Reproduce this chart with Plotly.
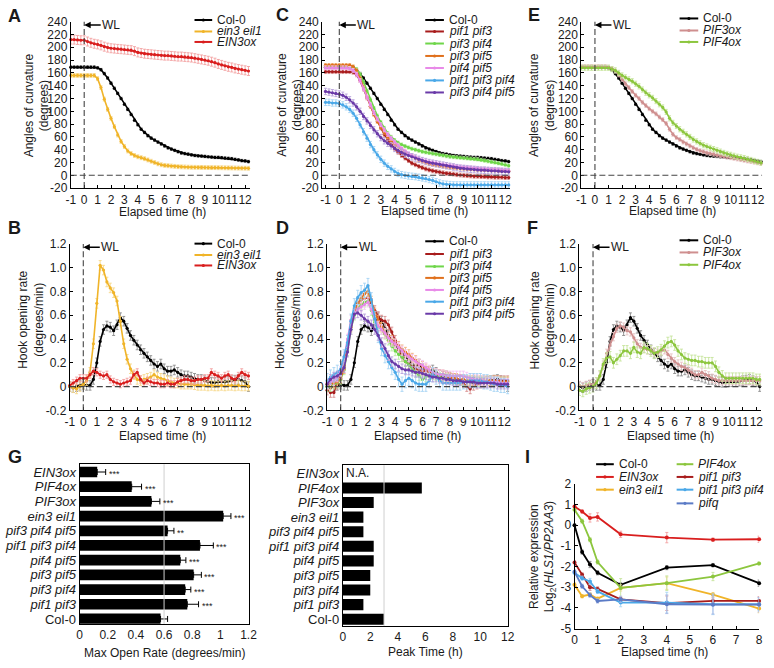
import plotly.graph_objects as go

W, H = 774, 668
def px(x): return x / W
def py(y): return 1 - y / H

# ---------------- data ----------------
TIME_H = [
    -1, -0.75, -0.5, -0.25, 0, 0.25, 0.5, 0.75, 1,
    1.25, 1.5, 1.75, 2, 2.25, 2.5, 2.75, 3, 3.25,
    3.5, 3.75, 4, 4.25, 4.5, 4.75, 5, 5.25, 5.5,
    5.75, 6, 6.25, 6.5, 6.75, 7, 7.25, 7.5, 7.75,
    8, 8.25, 8.5, 8.75, 9, 9.25, 9.5, 9.75, 10,
    10.25, 10.5, 10.75, 11, 11.25, 11.5, 11.75, 12, 12.25]
TIME_TICKS = [-1, 0, 1, 2, 3, 4, 5, 6, 7, 8, 9, 10, 11, 12]

# angles of curvature (degrees)
COL0_ANGLE = [
    169, 169, 169, 169, 169, 169, 169, 169, 168,
    165, 159, 152, 144, 136, 128, 120, 111, 103,
    95, 86, 79, 72, 67, 62, 58, 55, 52,
    49, 46, 43, 41, 39, 37, 35, 34, 33,
    32, 31, 30.5, 30, 29.5, 29, 28.5, 28, 28,
    27.5, 27, 26.5, 26, 25, 24, 23, 22.5, 21.5]
EIN3EIL1_ANGLE = [
    156, 156, 156, 156, 156, 156, 156, 156, 151,
    137, 119, 103, 89, 76, 63, 53, 45, 38,
    34, 31, 29, 27.5, 26, 24, 22, 20, 18,
    16.5, 15.5, 15, 14.5, 14, 13.5, 13.2, 13, 12.8,
    12.6, 12.5, 12.4, 12.3, 12.2, 12.1, 12, 12, 11.9,
    11.8, 11.7, 11.6, 11.5, 11.4, 11.3, 11.2, 11.1, 11]
EIN3OX_ANGLE = [
    212, 212, 211.5, 211, 211, 209, 207, 205.5, 204.5,
    203, 201, 199.5, 198.5, 198, 197.5, 197, 196.5, 196,
    195.5, 194, 192, 191, 190, 189.5, 189, 188.5, 188,
    187.5, 187, 187, 186.5, 186, 185.5, 185.5, 185, 184.5,
    184, 183, 182, 181, 180, 179, 177.5, 176, 174,
    172.5, 171, 169.5, 168.5, 167, 166, 165, 164, 163]
PIF13_ANGLE = [
    162, 162, 162, 162, 162, 162, 162, 162, 161,
    157, 148, 135, 121, 108, 96, 85, 74, 64,
    55, 48, 42, 36, 31, 27, 23, 19, 16.5,
    14, 12, 10, 8.5, 7, 6, 5, 4, 3,
    2.5, 2, 1, 0.5, 0, -0.5, -1, -1.5, -1.5,
    -2, -2, -2.5, -2.5, -3, -3, -3, -3.5, -3.5]
PIF34_ANGLE = [
    170, 170, 170, 170, 170, 170, 170, 170, 169,
    166, 158, 146, 132, 118, 105, 93, 83, 74,
    66, 60, 55, 51, 48, 45.5, 43.5, 41.5, 40,
    38.5, 37, 36, 35, 34, 33, 32, 31, 30,
    29, 28.5, 28, 27.5, 27, 26.5, 26, 25.5, 25,
    24, 23, 22, 21, 20, 19, 18, 16.5, 15]
PIF35_ANGLE = [
    172, 172, 172, 172, 172, 172, 172, 172, 170,
    164, 152, 137, 122, 108, 95, 84, 75, 67,
    60, 54, 49, 45, 41, 37, 33, 30, 27,
    24, 22, 20, 18, 17, 16, 15, 14, 13,
    12.5, 12, 11.5, 11, 10.5, 10, 10, 9.5, 9,
    9, 8.5, 8.5, 8, 8, 7.5, 7.5, 7, 6.5]
PIF45_ANGLE = [
    168, 168, 168, 168, 168, 168, 168, 167, 164,
    158, 148, 135, 122, 110, 98, 88, 79, 71,
    64, 58, 52, 47, 42, 38, 34, 31, 28.5,
    26, 24, 22.5, 21, 20, 19, 18, 17, 16,
    15.5, 15, 14, 13.5, 13, 12.5, 12, 11.5, 11,
    10.5, 10, 10, 9.5, 9.5, 9, 9, 8, 7.5]
PIF134_ANGLE = [
    114, 114, 113, 113, 112, 110, 107, 103, 97,
    89, 79, 68, 58, 48, 40, 32, 25, 19,
    14, 10, 6, 3, 1, 0, -1, -1.5, -2,
    -3, -4, -5, -6.5, -8, -10, -12, -13.5, -14,
    -14.5, -15, -15, -15, -15, -15, -15, -15, -15,
    -15, -15, -15, -15, -15, -15, -15, -15, -15]
PIF345_ANGLE = [
    131, 130, 129, 128, 127, 125, 122, 118, 113,
    107, 100, 92, 85, 78, 71, 65, 59, 54,
    50, 46, 42, 39, 36, 33, 31, 29, 27,
    25, 23, 21.5, 20, 19, 18, 17, 16, 15,
    14, 13, 12, 11, 10.5, 10, 9.5, 9, 8.5,
    8, 8, 7.5, 7, 7, 6.5, 6, 6, 5.5]
PIF3OX_ANGLE = [
    170, 170, 170, 170, 170, 170, 170, 170, 169,
    167, 163, 157, 150, 143, 137, 131, 125, 120,
    114, 109, 104, 100, 96, 91, 87, 81, 72,
    64, 59, 56, 52, 49, 46, 43, 40.5, 38.5,
    37, 35, 34, 33, 31.5, 30.5, 29.5, 28.5, 27.5,
    26.5, 25.5, 24.5, 23.5, 22.5, 21.5, 20.5, 19.5, 18.5]
PIF4OX_ANGLE = [
    168, 168, 168, 168, 168, 168, 168, 168, 168,
    166, 164, 160, 156, 153, 150, 147, 143, 139,
    134, 129, 125, 121, 116, 111, 106, 99, 89,
    82, 77, 72, 68, 64, 60, 56, 53, 50,
    47, 45, 43, 41, 39, 37, 35, 33.5, 32,
    30.5, 29, 28, 27, 25.5, 24, 22.5, 21, 19.5]

# hook opening rate (degrees/min)
COL0_RATE = [
    0.0, -0.01, 0.0, 0.01, 0.02, 0.01, 0.01, 0.06, 0.2,
    0.38, 0.48, 0.51, 0.5, 0.47, 0.52, 0.58, 0.55, 0.49,
    0.43, 0.39, 0.35, 0.31, 0.28, 0.25, 0.22, 0.19, 0.17,
    0.19, 0.15, 0.13, 0.13, 0.14, 0.12, 0.1, 0.09, 0.09,
    0.08, 0.07, 0.06, 0.06, 0.05, 0.04, 0.035, 0.035, 0.04,
    0.04, 0.04, 0.045, 0.05, 0.055, 0.06, 0.05, 0.04, 0.0]
EIN3EIL1_RATE = [
    0.0, -0.01, -0.02, 0.0, 0.02, 0.05, 0.12, 0.36, 0.7,
    1.02, 0.98, 0.88, 0.83, 0.79, 0.72, 0.55, 0.36, 0.23,
    0.15, 0.1, 0.06, 0.05, 0.06, 0.07, 0.08, 0.1, 0.08,
    0.07, 0.06, 0.05, 0.04, 0.03, 0.03, 0.02, 0.02, 0.02,
    0.02, 0.015, 0.01, 0.01, 0.01, 0.005, 0.01, 0.005, 0.005,
    0.01, 0.005, 0.01, 0.01, 0.005, 0.01, 0.005, 0.005, 0.005]
EIN3OX_RATE = [
    0.01, 0.03, 0.05, 0.07, 0.07, 0.07, 0.1, 0.13, 0.12,
    0.1, 0.09, 0.1, 0.06, 0.04, 0.03, 0.02, 0.03, 0.04,
    0.05, 0.1, 0.12, 0.06, 0.03, 0.05, 0.04, 0.03, 0.03,
    0.02, 0.02, 0.03, 0.02, 0.02, 0.04, 0.05, 0.06, 0.06,
    0.05, 0.05, 0.06, 0.06, 0.07, 0.07, 0.12, 0.1, 0.09,
    0.07, 0.09, 0.1, 0.07, 0.06, 0.09, 0.12, 0.1, 0.09]
PIF13_RATE = [
    -0.03, -0.05, -0.05, 0.02, 0.1, 0.18, 0.35, 0.52, 0.62,
    0.7, 0.73, 0.74, 0.75, 0.7, 0.64, 0.59, 0.56, 0.55,
    0.52, 0.46, 0.39, 0.31, 0.25, 0.21, 0.19, 0.17, 0.15,
    0.14, 0.13, 0.13, 0.12, 0.11, 0.1, 0.1, 0.09, 0.08,
    0.07, 0.07, 0.06, 0.05, 0.03, 0.0, -0.02, 0.01, 0.02,
    0.03, 0.03, 0.04, 0.04, 0.05, 0.05, 0.05, 0.05, 0.05]
PIF34_RATE = [
    0.0, 0.0, 0.02, 0.03, 0.06, 0.14, 0.3, 0.48, 0.6,
    0.66, 0.69, 0.71, 0.72, 0.64, 0.54, 0.5, 0.48, 0.44,
    0.39, 0.34, 0.3, 0.27, 0.25, 0.21, 0.18, 0.15, 0.12,
    0.09, 0.06, 0.08, 0.1, 0.1, 0.09, 0.08, 0.07, 0.07,
    0.06, 0.06, 0.06, 0.05, 0.05, 0.05, 0.05, 0.05, 0.04,
    0.04, 0.04, 0.04, 0.04, 0.04, 0.04, 0.04, 0.04, 0.04]
PIF35_RATE = [
    0.02, 0.02, 0.03, 0.04, 0.07, 0.15, 0.33, 0.5, 0.62,
    0.7, 0.74, 0.78, 0.8, 0.72, 0.62, 0.56, 0.5, 0.45,
    0.42, 0.39, 0.36, 0.34, 0.31, 0.29, 0.27, 0.24, 0.22,
    0.19, 0.17, 0.15, 0.13, 0.12, 0.11, 0.1, 0.1, 0.09,
    0.08, 0.07, 0.07, 0.06, 0.06, 0.05, 0.05, 0.05, 0.05,
    0.05, 0.05, 0.05, 0.05, 0.05, 0.05, 0.04, 0.04, 0.04]
PIF45_RATE = [
    0.03, 0.04, 0.05, 0.08, 0.13, 0.25, 0.4, 0.56, 0.62,
    0.65, 0.67, 0.69, 0.71, 0.65, 0.57, 0.51, 0.48, 0.45,
    0.41, 0.38, 0.36, 0.33, 0.3, 0.27, 0.25, 0.23, 0.21,
    0.19, 0.18, 0.16, 0.14, 0.12, 0.11, 0.1, 0.1, 0.09,
    0.09, 0.09, 0.09, 0.09, 0.09, 0.08, 0.07, 0.06, 0.06,
    0.05, 0.05, 0.04, 0.04, 0.04, 0.04, 0.03, 0.03, 0.03]
PIF134_RATE = [
    0.05, 0.08, 0.1, 0.12, 0.15, 0.25, 0.37, 0.55, 0.68,
    0.75, 0.79, 0.81, 0.85, 0.73, 0.57, 0.43, 0.32, 0.26,
    0.21, 0.16, 0.12, 0.06, 0.02, 0.05, 0.07, 0.05, 0.03,
    0.02, 0.02, 0.02, 0.05, 0.1, 0.08, 0.05, 0.03, 0.03,
    0.03, 0.03, 0.03, 0.03, 0.04, 0.04, 0.05, 0.05, 0.05,
    0.05, 0.04, 0.04, 0.03, 0.02, 0.02, 0.01, 0.01, 0.0]
PIF345_RATE = [
    0.02, 0.06, 0.08, 0.09, 0.11, 0.16, 0.29, 0.48, 0.61,
    0.62, 0.6, 0.57, 0.55, 0.52, 0.48, 0.43, 0.37, 0.32,
    0.26, 0.21, 0.19, 0.17, 0.15, 0.14, 0.14, 0.13, 0.12,
    0.12, 0.11, 0.1, 0.09, 0.08, 0.08, 0.07, 0.07, 0.06,
    0.06, 0.05, 0.05, 0.05, 0.04, 0.04, 0.04, 0.04, 0.03,
    0.03, 0.03, 0.03, 0.03, 0.03, 0.02, 0.02, 0.02, 0.02]
PIF3OX_RATE = [
    0.01, 0.0, 0.01, 0.02, 0.02, 0.04, 0.09, 0.18, 0.28,
    0.35, 0.42, 0.49, 0.51, 0.5, 0.47, 0.46, 0.41, 0.36,
    0.33, 0.32, 0.31, 0.31, 0.29, 0.28, 0.3, 0.31, 0.27,
    0.24, 0.21, 0.19, 0.17, 0.16, 0.14, 0.12, 0.1, 0.1,
    0.12, 0.1, 0.09, 0.07, 0.06, 0.05, 0.05, 0.05, 0.05,
    0.05, 0.05, 0.05, 0.05, 0.05, 0.05, 0.05, 0.05, 0.05]
PIF4OX_RATE = [
    -0.03, -0.04, -0.02, -0.01, 0.0, 0.03, 0.09, 0.19, 0.24,
    0.25, 0.2, 0.23, 0.26, 0.3, 0.3, 0.28, 0.33, 0.29,
    0.28, 0.33, 0.32, 0.3, 0.28, 0.29, 0.31, 0.34, 0.37,
    0.38, 0.35, 0.3, 0.27, 0.24, 0.23, 0.22, 0.22, 0.21,
    0.21, 0.2, 0.2, 0.2, 0.17, 0.12, 0.09, 0.07, 0.07,
    0.07, 0.07, 0.07, 0.07, 0.07, 0.07, 0.07, 0.06, 0.06]

# G / H bar panels (bottom to top)
GENOTYPES = ["Col-0", "pif1 pif3", "pif3 pif4", "pif3 pif5", "pif4 pif5",
             "pif1 pif3 pif4", "pif3 pif4 pif5", "ein3 eil1", "PIF3ox", "PIF4ox", "EIN3ox"]
MAX_OPEN_RATE = [0.575, 0.765, 0.75, 0.81, 0.715, 0.855, 0.625, 1.02, 0.51, 0.37, 0.125]
MAX_OPEN_ERR = [0.05, 0.08, 0.04, 0.055, 0.04, 0.095, 0.045, 0.055, 0.06, 0.07, 0.06]
SIGNIF = ["", "***", "***", "***", "***", "***", "**", "***", "***", "***", "***"]
PEAK_TIME = [3.0, 1.5, 2.0, 2.0, 2.25, 2.25, 1.5, 1.5, 2.25, 5.75, None]

# I: HLS1 expression
I_TIME = [0, 0.33, 0.67, 1, 2, 4, 6, 8]
I_COL0 = [0, -1.3, -1.9, -2.3, -2.88, -2.05, -1.93, -2.8]
I_EIN3OX = [0.9, 0.66, 0.35, 0.4, -0.44, -0.6, -0.7, -0.68]
I_EIN3EIL1 = [-2.88, -3.43, -3.35, -3.55, -3.03, -2.8, -3.35, -4.03]
I_PIF4OX = [0.74, 0.19, -0.7, -1.78, -3.03, -2.8, -2.48, -1.85]
I_PIF13 = [-1.8, -2.4, -3.0, -3.08, -3.58, -3.77, -3.66, -3.66]
I_PIF134 = [-2.3, -2.56, -2.72, -3.2, -3.74, -3.74, -3.82, -3.82]
I_PIFQ = [-2.25, -2.95, -3.38, -3.66, -3.58, -3.82, -3.84, -3.84]
I_COL0_E = [0.05, 0.1, 0.15, 0.1, 0.1, 0.1, 0.08, 0.15]
I_EIN3OX_E = [0.1, 0.08, 0.2, 0.2, 0.15, 0.25, 0.08, 0.15]
I_EIN3EIL1_E = [0.1, 0.08, 0.08, 0.08, 0.15, 0.3, 0.1, 0.2]
I_PIF4OX_E = [0.05, 0.1, 0.1, 0.1, 0.45, 0.35, 0.2, 0.08]
I_PIF13_E = [0.08, 0.1, 0.15, 0.1, 0.1, 0.35, 0.15, 0.2]
I_PIF134_E = [0.1, 0.1, 0.15, 0.1, 0.2, 0.5, 0.5, 0.3]
I_PIFQ_E = [0.1, 0.1, 0.1, 0.1, 0.15, 0.45, 0.45, 0.35]

for arr in [COL0_ANGLE, EIN3EIL1_ANGLE, EIN3OX_ANGLE, PIF13_ANGLE, PIF34_ANGLE, PIF35_ANGLE,
            PIF45_ANGLE, PIF134_ANGLE, PIF345_ANGLE, PIF3OX_ANGLE, PIF4OX_ANGLE,
            COL0_RATE, EIN3EIL1_RATE, EIN3OX_RATE, PIF13_RATE, PIF34_RATE, PIF35_RATE,
            PIF45_RATE, PIF134_RATE, PIF345_RATE, PIF3OX_RATE, PIF4OX_RATE]:
    assert len(arr) == len(TIME_H), len(arr)

# colours (line, error bar)
COL = {
    "col0": ("#000000", "#8c8c8c"),
    "eil": ("#f0b429", "#f7d88a"),
    "eox": ("#d91e1e", "#f3a0a0"),
    "p13": ("#a81c1c", "#d99090"),
    "p34": ("#6fd64a", "#b8eea0"),
    "p35": ("#e0701c", "#f2b27e"),
    "p45": ("#e88ae8", "#f5c3f5"),
    "p134": ("#4aa8e8", "#a6d4f4"),
    "p345": ("#6a3aa8", "#b7a0da"),
    "p3ox": ("#cf8f8f", "#e8c4c4"),
    "p4ox": ("#8cc63e", "#c6e49c"),
    "pifq": ("#5b7bc6", "#a8b8e4"),
}

FONT = "Liberation Sans, Arial, Helvetica, sans-serif"
TXT_COLOR = "#1a1a1a"
fig = go.Figure()

def ax_names(n):
    return ("xaxis" if n == 1 else f"xaxis{n}", "yaxis" if n == 1 else f"yaxis{n}",
            "x" if n == 1 else f"x{n}", "y" if n == 1 else f"y{n}")

def add_line(n, x, y, err, key, width=1.6, msize=3.2, arr=False):
    _, _, xr, yr = ax_names(n)
    c, ec = COL[key]
    ey = dict(type="data", array=err, color=ec, thickness=0.9, width=1.5) if arr else \
        dict(type="constant", value=err, color=ec, thickness=0.9, width=1.5)
    fig.add_trace(go.Scatter(x=x, y=y, mode="lines+markers", xaxis=xr, yaxis=yr,
                             line=dict(color=c, width=width), marker=dict(size=msize, color=c),
                             error_y=ey, showlegend=False, cliponaxis=False))

layout = dict(width=W, height=H, margin=dict(l=0, r=0, t=0, b=0),
              paper_bgcolor="white", plot_bgcolor="white", showlegend=False,
              font=dict(family=FONT, size=12, color=TXT_COLOR))
shapes, annots = [], []

def base_axis(dom, rng, tickvals, ticktext, anchor):
    return dict(domain=dom, range=rng, anchor=anchor, tickvals=tickvals, ticktext=ticktext,
                tickmode="array", ticks="inside", ticklen=3, tickcolor="black",
                showline=True, linecolor="black", linewidth=1, showgrid=False,
                zeroline=False, tickfont=dict(size=12, family=FONT, color=TXT_COLOR), tickangle=0)

def time_panel(n, xd, yd, xr, yr, yticks, yticktext):
    xa, ya, xref, yref = ax_names(n)
    layout[xa] = base_axis([px(xd[0]), px(xd[1])], xr, TIME_TICKS,
                           [str(t) for t in TIME_TICKS], yref)
    layout[ya] = base_axis([py(yd[1]), py(yd[0])], yr, yticks, yticktext, xref)
    shapes.append(dict(type="line", xref=xref, yref=f"{yref} domain", x0=0, x1=0, y0=0, y1=1,
                       line=dict(color="#444444", width=1.1, dash="6px,3px"), layer="above"))
    shapes.append(dict(type="line", xref=f"{xref} domain", yref=yref, x0=0, x1=1, y0=0, y1=0,
                       line=dict(color="#444444", width=1.1, dash="6px,3px"), layer="above"))
    top = yr[1] - (yr[1] - yr[0]) * 0.02
    annots.append(dict(x=0, y=top, xref=xref, yref=yref, text="WL", showarrow=True,
                       ax=27, ay=0, arrowhead=2, arrowsize=1, arrowwidth=1.3, arrowcolor="black",
                       font=dict(size=12)))

ANG_TICKS = [-20, 0, 20, 40, 60, 80, 100, 120, 140, 160, 180, 200, 220, 240]
RATE_TICKS = [-0.2, 0, 0.2, 0.4, 0.6, 0.8, 1.0, 1.2]
RATE_TEXT = ["-0.2", "0", "0.2", "0.4", "0.6", "0.8", "1.0", "1.2"]

time_panel(1, (67, 250), (15, 185), [-1, 12.4], [-20, 240], ANG_TICKS, [str(t) for t in ANG_TICKS])
time_panel(2, (66, 250), (242, 412), [-1, 12.4], [-0.2, 1.2], RATE_TICKS, RATE_TEXT)
time_panel(3, (323, 514), (15, 185), [-1.24, 12.32], [-20, 240], ANG_TICKS, [str(t) for t in ANG_TICKS])
time_panel(4, (328, 514), (242, 412), [-1, 12.4], [-0.2, 1.2], RATE_TICKS, RATE_TEXT)
time_panel(5, (587, 771), (15, 185), [-1, 12.32], [-20, 240], ANG_TICKS, [str(t) for t in ANG_TICKS])
time_panel(6, (585, 770), (242, 412), [-1, 12.35], [-0.2, 1.2], RATE_TICKS, RATE_TEXT)

# A
add_line(1, TIME_H, EIN3OX_ANGLE, 7, "eox")
add_line(1, TIME_H, COL0_ANGLE, 2, "col0")
add_line(1, TIME_H, EIN3EIL1_ANGLE, 3, "eil")
# B
add_line(2, TIME_H, COL0_RATE, 0.04, "col0")
add_line(2, TIME_H, EIN3EIL1_RATE, 0.04, "eil")
add_line(2, TIME_H, EIN3OX_RATE, 0.03, "eox")
# C
add_line(3, TIME_H, COL0_ANGLE, 2, "col0")
add_line(3, TIME_H, PIF13_ANGLE, 3, "p13")
add_line(3, TIME_H, PIF34_ANGLE, 2.5, "p34")
add_line(3, TIME_H, PIF35_ANGLE, 2.5, "p35")
add_line(3, TIME_H, PIF45_ANGLE, 3, "p45")
add_line(3, TIME_H, PIF134_ANGLE, 5, "p134")
add_line(3, TIME_H, PIF345_ANGLE, 5, "p345")
# D
add_line(4, TIME_H, COL0_RATE, 0.04, "col0")
add_line(4, TIME_H, PIF13_RATE, 0.04, "p13")
add_line(4, TIME_H, PIF34_RATE, 0.04, "p34")
add_line(4, TIME_H, PIF35_RATE, 0.04, "p35")
add_line(4, TIME_H, PIF45_RATE, 0.04, "p45")
add_line(4, TIME_H, PIF134_RATE, 0.06, "p134")
add_line(4, TIME_H, PIF345_RATE, 0.04, "p345")
# E
add_line(5, TIME_H, COL0_ANGLE, 2, "col0")
add_line(5, TIME_H, PIF3OX_ANGLE, 3, "p3ox")
add_line(5, TIME_H, PIF4OX_ANGLE, 4, "p4ox")
# F
add_line(6, TIME_H, COL0_RATE, 0.04, "col0")
add_line(6, TIME_H, PIF3OX_RATE, 0.035, "p3ox")
add_line(6, TIME_H, PIF4OX_RATE, 0.045, "p4ox")

# ---------------- G and H ----------------
def label(g):
    return g if g == "Col-0" else f"<i>{g}</i>"

def bar_panel(n, xd, yd, xr, yr, xticks, xtext):
    xa, ya, xref, yref = ax_names(n)
    ax = base_axis([px(xd[0]), px(xd[1])], xr, xticks, xtext, yref)
    ax.update(mirror=True, ticks="")
    layout[xa] = ax
    layout[ya] = dict(domain=[py(yd[1]), py(yd[0])], anchor=xref, type="category",
                      categoryorder="array", categoryarray=GENOTYPES, range=yr,
                      tickmode="array", tickvals=GENOTYPES, ticktext=[label(g) for g in GENOTYPES],
                      ticks="", showline=True, mirror=True, linecolor="black", linewidth=1,
                      showgrid=False, zeroline=False,
                      tickfont=dict(size=13, family=FONT, color=TXT_COLOR))

bar_panel(7, (76, 248), (467, 630), [0, 1.2], [-0.33, 10.53],
          [0, 0.2, 0.4, 0.6, 0.8, 1.0, 1.2], ["0", "0.2", "0.4", "0.6", "0.8", "1", "1.2"])
bar_panel(8, (344, 512), (468, 632), [0, 12], [-0.45, 10.56],
          [0, 2, 4, 6, 8, 10, 12], ["0", "2", "4", "6", "8", "10", "12"])

fig.add_trace(go.Bar(x=MAX_OPEN_RATE, y=GENOTYPES, orientation="h", xaxis="x7", yaxis="y7",
                     marker=dict(color="black", line=dict(width=0)), width=0.73,
                     error_x=dict(type="data", array=MAX_OPEN_ERR, arrayminus=[0] * len(GENOTYPES),
                                  symmetric=False, color="black", thickness=1, width=3),
                     showlegend=False))
fig.add_trace(go.Bar(x=PEAK_TIME, y=GENOTYPES, orientation="h", xaxis="x8", yaxis="y8",
                     marker=dict(color="black", line=dict(width=0)), width=0.76, showlegend=False))

shapes.append(dict(type="line", xref="x7", yref="y7 domain", x0=0.6, x1=0.6, y0=0, y1=1,
                   line=dict(color="#cfcfcf", width=1), layer="above"))
shapes.append(dict(type="line", xref="x8", yref="y8 domain", x0=3, x1=3, y0=0, y1=1,
                   line=dict(color="#cfcfcf", width=1), layer="above"))
for g, v, e, s in zip(GENOTYPES, MAX_OPEN_RATE, MAX_OPEN_ERR, SIGNIF):
    if s:
        annots.append(dict(x=v + e, y=g, xref="x7", yref="y7", text=s, showarrow=False,
                           xanchor="left", xshift=1, yshift=-2, font=dict(size=9)))
annots.append(dict(x=0.12, y="EIN3ox", xref="x8", yref="y8", text="N.A.", showarrow=False,
                   xanchor="left", font=dict(size=12)))

# ---------------- I ----------------
layout["xaxis9"] = base_axis([px(580), px(768)], [0, 8], list(range(9)), [str(t) for t in range(9)], "y9")
layout["yaxis9"] = base_axis([py(635), py(487)], [-5, 2], list(range(-5, 3)),
                             [str(t) for t in range(-5, 3)], "x9")
add_line(9, I_TIME, I_COL0, I_COL0_E, "col0", width=1.8, msize=4, arr=True)
add_line(9, I_TIME, I_EIN3OX, I_EIN3OX_E, "eox", width=1.8, msize=4, arr=True)
add_line(9, I_TIME, I_EIN3EIL1, I_EIN3EIL1_E, "eil", width=1.8, msize=4, arr=True)
add_line(9, I_TIME, I_PIF4OX, I_PIF4OX_E, "p4ox", width=1.8, msize=4, arr=True)
add_line(9, I_TIME, I_PIF13, I_PIF13_E, "p13", width=1.8, msize=4, arr=True)
add_line(9, I_TIME, I_PIF134, I_PIF134_E, "p134", width=1.8, msize=4, arr=True)
add_line(9, I_TIME, I_PIFQ, I_PIFQ_E, "pifq", width=1.8, msize=4, arr=True)

# ---------------- legends ----------------
def legend(x0, x1, rows, entries):
    for ypx, (key, name) in zip(rows, entries):
        c = COL[key][0]
        shapes.append(dict(type="line", xref="paper", yref="paper", x0=px(x0), x1=px(x1),
                           y0=py(ypx), y1=py(ypx), line=dict(color=c, width=2)))
        xm = (x0 + x1) / 2
        shapes.append(dict(type="circle", xref="paper", yref="paper", x0=px(xm - 1.6), x1=px(xm + 1.6),
                           y0=py(ypx + 1.6), y1=py(ypx - 1.6), fillcolor=c, line=dict(color=c, width=0)))
        annots.append(dict(x=px(x1 + 3), y=py(ypx), xref="paper", yref="paper", text=label(name),
                           showarrow=False, xanchor="left", yanchor="middle", font=dict(size=12)))

L_AB = [("col0", "Col-0"), ("eil", "ein3 eil1"), ("eox", "EIN3ox")]
L_CD = [("col0", "Col-0"), ("p13", "pif1 pif3"), ("p34", "pif3 pif4"), ("p35", "pif3 pif5"),
        ("p45", "pif4 pif5"), ("p134", "pif1 pif3 pif4"), ("p345", "pif3 pif4 pif5")]
L_EF = [("col0", "Col-0"), ("p3ox", "PIF3ox"), ("p4ox", "PIF4ox")]
legend(193, 211, [13.3, 25, 35.7], L_AB)
legend(193, 211, [241.7, 253.3, 264], L_AB)
legend(428, 447, [13.3, 25, 37.3, 50, 62.3, 75, 87.3], L_CD)
legend(428, 447, [239.3, 252.3, 265, 276.7, 289, 301, 313.3], L_CD)
legend(687, 706, [11.7, 24, 35.7], L_EF)
legend(687, 706, [238.3, 250.7, 263.3], L_EF)
legend(602, 620, [467, 480, 493], [("col0", "Col-0"), ("eox", "EIN3ox"), ("eil", "ein3 eil1")])
legend(684, 701, [467, 480, 493, 507], [("p4ox", "PIF4ox"), ("p13", "pif1 pif3"),
                                        ("p134", "pif1 pif3 pif4"), ("pifq", "pifq")])

# ---------------- text ----------------
def txt(x, y, s, size=12, angle=0, xanchor="center"):
    annots.append(dict(x=px(x), y=py(y), xref="paper", yref="paper", text=s, showarrow=False,
                       textangle=angle, xanchor=xanchor, yanchor="middle", font=dict(size=size)))

for letter, (lx, ly) in {"A": (1, 9), "B": (1, 226), "C": (274, 8), "D": (274, 226),
                         "E": (531, 8), "F": (530, 226), "G": (1, 460), "H": (272, 461),
                         "I": (528, 460)}.items():
    txt(lx, ly, f"<b>{letter}</b>", size=18, xanchor="left")

ANG_T = "Angles of curvature<br>(degrees)"
RATE_T = "Hook opening rate<br>(degrees/min)"
txt(32, 100, ANG_T, angle=-90)
txt(290, 100, ANG_T, angle=-90)
txt(547, 100, ANG_T, angle=-90)
txt(27, 320, RATE_T, angle=-90)
txt(289, 320, RATE_T, angle=-90)
txt(548, 320, RATE_T, angle=-90)
txt(547, 562, "Relative expression<br>Log<sub>2</sub>(<i>HLS1/PP2AA3</i>)", angle=-90)
for xc, yc in [(160, 209), (427, 208), (680, 208), (160, 438), (420, 438), (678, 438), (672, 659)]:
    txt(xc, yc, "Elapsed time (h)")
txt(162, 660, "Max Open Rate (degrees/min)")
txt(428, 659, "Peak Time (h)")

layout["shapes"] = shapes
layout["annotations"] = annots
fig.update_layout(**layout)
fig.write_html("out.html", config={"displayModeBar": False},
               post_script="document.body.style.margin='0';document.body.style.padding='0';")
